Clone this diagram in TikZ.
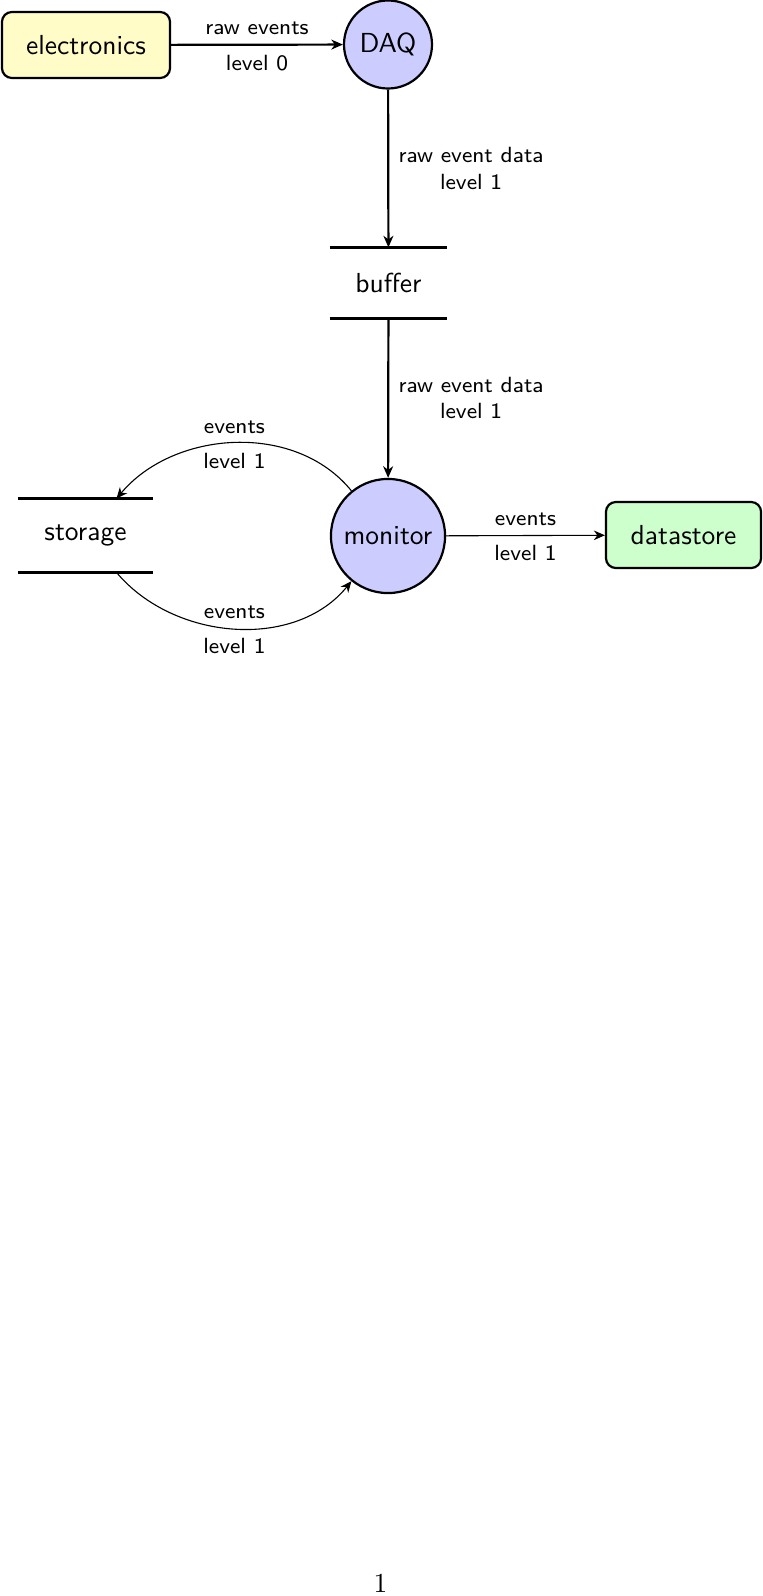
\documentclass[tikz,border=0pt]{standalone}
\usetikzlibrary{arrows.meta}
\begin{document}
\begin{tikzpicture}[x=0.3636pt,y=-0.3636pt,
  every node/.style={font=\sffamily},
  proc/.style={circle,draw,thick,fill=blue!20,inner sep=0pt},
  ent/.style={rectangle,rounded corners=3.6pt,draw,thick,inner sep=0pt,minimum height=24pt},
  store/.style={rectangle,inner sep=0pt},
  flow/.style={thick,-{Stealth[length=4.2pt,width=3.6pt,inset=1.3pt]}},
  thinflow/.style={thin,-{Stealth[length=4pt,width=3.5pt,inset=1.3pt]}},
  lbl/.style={font=\sffamily\footnotesize}
]
\useasboundingbox (0,0) rectangle (762,1596);

% entities, processes and stores
\node[ent,fill=yellow!22,minimum width=61.1pt] (electronics) at (86,45) {electronics};
\node[proc,minimum size=32pt] (daq) at (388,44.5) {DAQ};
\node[store,minimum width=42.5pt,minimum height=25.5pt] (buffer) at (388.5,283) {buffer};
\node[proc,minimum size=41.5pt] (monitor) at (388,536) {monitor};
\node[store,minimum width=48.4pt,minimum height=26.5pt] (storage) at (85.5,535.5) {storage};
\node[ent,fill=green!20,minimum width=56.4pt] (datastore) at (683.5,535) {datastore};

% store borders
\draw[very thick] (buffer.north west) -- (buffer.north east);
\draw[very thick] (buffer.south west) -- (buffer.south east);
\draw[very thick] (storage.north west) -- (storage.north east);
\draw[very thick] (storage.south west) -- (storage.south east);

% data flows
\draw[flow] (electronics) -- node[lbl,above] {raw events} node[lbl,below] {level 0} (daq);
\draw[flow] (daq) -- node[lbl,right,align=center] {raw event data\\level 1} (buffer);
\draw[flow] (buffer) -- node[lbl,right,align=center] {raw event data\\level 1} (monitor);
\draw[thinflow] (monitor.129) to[out=129,in=50,looseness=0.97] node[lbl,above] {events} node[lbl,below] {level 1} (storage.50);
\draw[thinflow] (storage.-50) to[out=-50,in=231,looseness=0.97] node[lbl,above] {events} node[lbl,below] {level 1} (monitor.231);
\draw[thinflow] (monitor) -- node[lbl,above] {events} node[lbl,below] {level 1} (datastore);

% page number
\node[font=\rmfamily] (pagenum) at (380.5,1583) {1};
\end{tikzpicture}
\end{document}
